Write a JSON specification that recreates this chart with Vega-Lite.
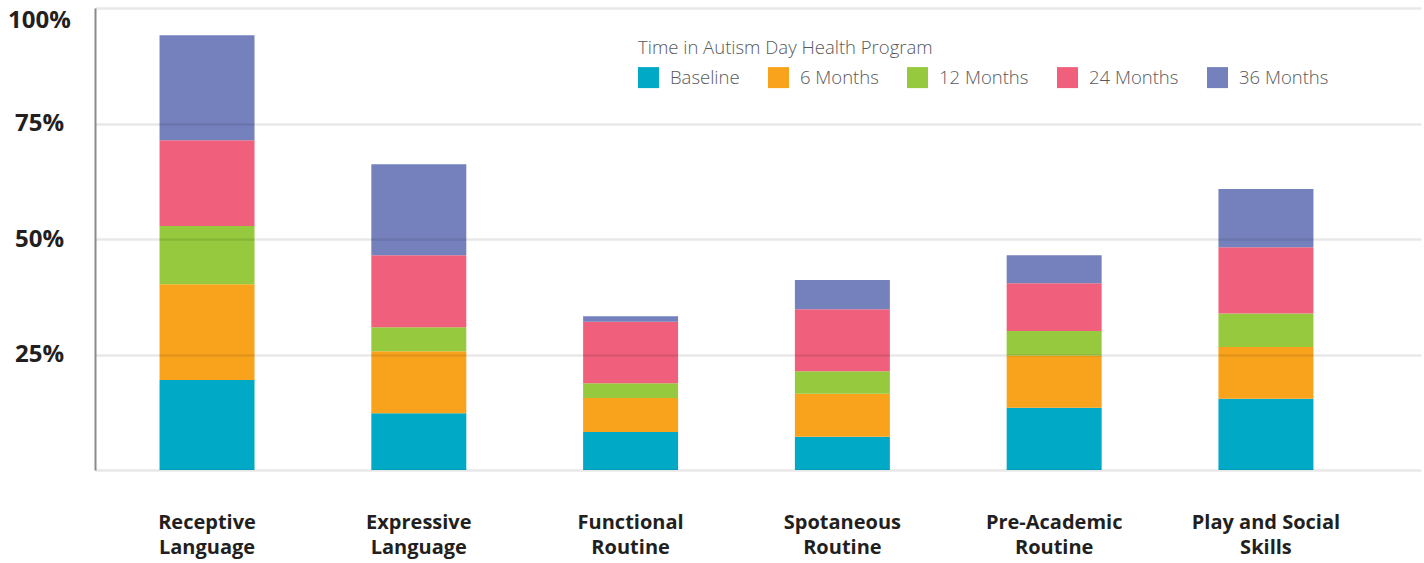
{
  "$schema": "https://vega.github.io/schema/vega-lite/v6.json",
  "autosize": {"type": "none"},
  "padding": {"left": 95, "top": 8, "right": 3, "bottom": 93},
  "width": 1326,
  "height": 462,
  "background": "white",
  "data": {
    "values": [
      {"skill": "Receptive Language", "time": "Baseline", "ord": 1, "value": 19.5},
      {"skill": "Receptive Language", "time": "6 Months", "ord": 2, "value": 20.7},
      {"skill": "Receptive Language", "time": "12 Months", "ord": 3, "value": 12.6},
      {"skill": "Receptive Language", "time": "24 Months", "ord": 4, "value": 18.6},
      {"skill": "Receptive Language", "time": "36 Months", "ord": 5, "value": 22.7},
      {"skill": "Expressive Language", "time": "Baseline", "ord": 1, "value": 12.3},
      {"skill": "Expressive Language", "time": "6 Months", "ord": 2, "value": 13.4},
      {"skill": "Expressive Language", "time": "12 Months", "ord": 3, "value": 5.2},
      {"skill": "Expressive Language", "time": "24 Months", "ord": 4, "value": 15.6},
      {"skill": "Expressive Language", "time": "36 Months", "ord": 5, "value": 19.7},
      {"skill": "Functional Routine", "time": "Baseline", "ord": 1, "value": 8.2},
      {"skill": "Functional Routine", "time": "6 Months", "ord": 2, "value": 7.4},
      {"skill": "Functional Routine", "time": "12 Months", "ord": 3, "value": 3.2},
      {"skill": "Functional Routine", "time": "24 Months", "ord": 4, "value": 13.3},
      {"skill": "Functional Routine", "time": "36 Months", "ord": 5, "value": 1.2},
      {"skill": "Spotaneous Routine", "time": "Baseline", "ord": 1, "value": 7.2},
      {"skill": "Spotaneous Routine", "time": "6 Months", "ord": 2, "value": 9.3},
      {"skill": "Spotaneous Routine", "time": "12 Months", "ord": 3, "value": 4.9},
      {"skill": "Spotaneous Routine", "time": "24 Months", "ord": 4, "value": 13.4},
      {"skill": "Spotaneous Routine", "time": "36 Months", "ord": 5, "value": 6.3},
      {"skill": "Pre-Academic Routine", "time": "Baseline", "ord": 1, "value": 13.5},
      {"skill": "Pre-Academic Routine", "time": "6 Months", "ord": 2, "value": 11.3},
      {"skill": "Pre-Academic Routine", "time": "12 Months", "ord": 3, "value": 5.3},
      {"skill": "Pre-Academic Routine", "time": "24 Months", "ord": 4, "value": 10.3},
      {"skill": "Pre-Academic Routine", "time": "36 Months", "ord": 5, "value": 6.1},
      {"skill": "Play and Social Skills", "time": "Baseline", "ord": 1, "value": 15.4},
      {"skill": "Play and Social Skills", "time": "6 Months", "ord": 2, "value": 11.2},
      {"skill": "Play and Social Skills", "time": "12 Months", "ord": 3, "value": 7.3},
      {"skill": "Play and Social Skills", "time": "24 Months", "ord": 4, "value": 14.3},
      {"skill": "Play and Social Skills", "time": "36 Months", "ord": 5, "value": 12.6}
    ]
  },
  "mark": {"type": "bar"},
  "encoding": {
    "x": {
      "field": "skill",
      "type": "nominal",
      "sort": null,
      "scale": {"paddingInner": 0.5515, "paddingOuter": 0.4063, "align": 0.375},
      "axis": {
        "title": null,
        "domain": false,
        "ticks": false,
        "tickSize": 0,
        "grid": false,
        "labelAngle": 0,
        "labelFont": "Open Sans",
        "labelFontWeight": "bold",
        "labelFontSize": 20,
        "labelLineHeight": 25,
        "labelColor": "#231f20",
        "labelPadding": 42,
        "labelLimit": 0,
        "labelExpr": "[slice(datum.label, 0, lastindexof(datum.label, ' ')), slice(datum.label, lastindexof(datum.label, ' ') + 1)]"
      }
    },
    "y": {
      "field": "value",
      "type": "quantitative",
      "stack": "zero",
      "scale": {"domain": [0, 100], "nice": false},
      "axis": {
        "title": null,
        "values": [0, 25, 50, 75, 100],
        "labelExpr": "datum.value == 0 ? '' : datum.value + '%'",
        "domain": true,
        "domainColor": "#8a8a8a",
        "domainWidth": 2,
        "grid": true,
        "gridColor": "#000000",
        "gridOpacity": 0.09,
        "gridWidth": 2.5,
        "ticks": false,
        "tickSize": 0,
        "zindex": 1,
        "labelFlush": true,
        "labelFlushOffset": 0,
        "labelAlign": "center",
        "labelPadding": 56,
        "labelFont": "Open Sans",
        "labelFontWeight": "bold",
        "labelFontSize": 24,
        "labelColor": "#231f20"
      }
    },
    "color": {
      "field": "time",
      "type": "nominal",
      "scale": {
        "domain": ["Baseline", "6 Months", "12 Months", "24 Months", "36 Months"],
        "range": ["#00aac7", "#f8a31b", "#96c93d", "#f0607d", "#7581bd"]
      },
      "legend": {
        "title": "Time in Autism Day Health Program",
        "orient": "none",
        "legendX": 543,
        "legendY": 30.6,
        "direction": "horizontal",
        "padding": 0,
        "offset": 0,
        "titleFont": "Open Sans",
        "titleFontWeight": 300,
        "titleFontSize": 18.5,
        "titleColor": "#58595b",
        "titlePadding": 10,
        "titleLimit": 0,
        "labelFont": "Open Sans",
        "labelFontWeight": 300,
        "labelFontSize": 18.5,
        "labelColor": "#58595b",
        "labelOffset": 11,
        "labelLimit": 0,
        "symbolType": "square",
        "symbolSize": 441,
        "symbolStrokeWidth": 0,
        "symbolOpacity": 1,
        "columnPadding": 28
      }
    },
    "order": {"field": "ord", "type": "quantitative"}
  },
  "config": {"view": {"stroke": null}}
}
